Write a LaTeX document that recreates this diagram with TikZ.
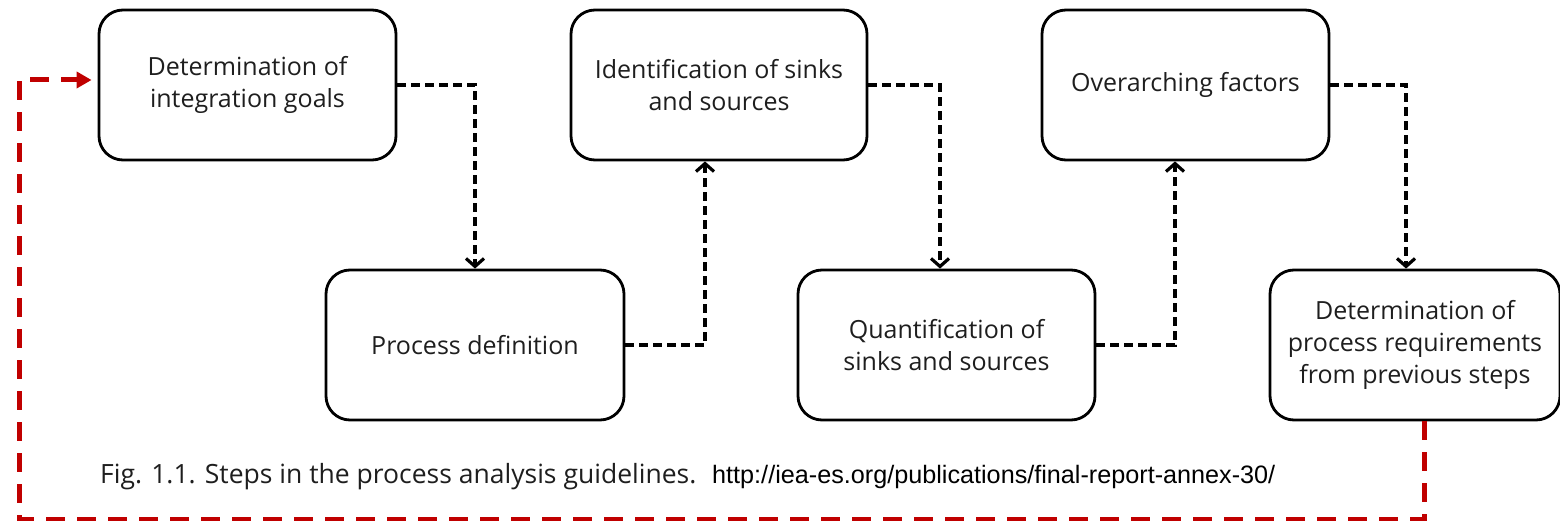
\documentclass[tikz,border=0pt]{standalone}
\usepackage{fontspec}
\setmainfont{Open Sans}
\newfontfamily\urlfont{Liberation Sans}
\usetikzlibrary{arrows.meta}
\definecolor{loopred}{HTML}{C00000}
\definecolor{inkgray}{HTML}{1E1E1E}
\begin{document}
\begin{tikzpicture}[x=1pt,y=-1pt,
  stepbox/.style={draw=black, line width=2.8pt, rounded corners=24pt,
    minimum height=150pt, align=center, text=inkgray,
    font=\fontsize{25}{32}\selectfont, inner sep=0pt},
  flow/.style={draw=black, line width=3.4pt, dash pattern=on 9pt off 5pt,
    -{Straight Barb[length=8pt,width=18pt,line width=3.2pt]}},
  feedback/.style={draw=loopred, line width=5pt, dash pattern=on 19pt off 12pt,
    -{Triangle[length=15pt,width=16pt]}}]
\useasboundingbox (0,0) rectangle (1560,521);

% step boxes
\node[stepbox, minimum width=297pt] (goals) at (247.5,85) {Determination of\\integration goals};
\node[stepbox, minimum width=296pt] (ident) at (719,85) {Identification of sinks\\and sources};
\node[stepbox, minimum width=287pt] (over) at (1185.5,85) {Overarching factors};
\node[stepbox, minimum width=298pt] (proc) at (475,345) {Process definition};
\node[stepbox, minimum width=297pt] (quant) at (946.5,345) {Quantification of\\sinks and sources};
\node[stepbox, minimum width=290pt] (req) at (1415,345) {Determination of\\process requirements\\from previous steps};

% dashed flow between the steps
\draw[flow] (goals.east) -| (proc.north);
\draw[flow] (proc.east) -| ([xshift=-14pt]ident.south);
\draw[flow] (ident.east) -| ([xshift=-6.5pt]quant.north);
\draw[flow] (quant.east) -| ([xshift=-10.5pt]over.south);
\draw[flow] (over.east) -| ([xshift=-9pt]req.north);

% feedback loop back to the first step
\coordinate (corner) at (19,519);
\draw[feedback, shorten >=6pt] ([xshift=9pt]req.south) |- (corner) |- ([yshift=5pt]goals.west);

% caption
\node[anchor=base west, inner sep=0pt, text=inkgray, font=\fontsize{26.5}{30}\selectfont] (cap) at (100,483)
  {Fig. 1.1. Steps in the process analysis guidelines.};
\node[anchor=base west, inner sep=0pt, font=\urlfont\fontsize{25.2}{28}\selectfont] (src) at (712,483)
  {http://iea-es.org/publications/final-report-annex-30/};
\end{tikzpicture}
\end{document}
